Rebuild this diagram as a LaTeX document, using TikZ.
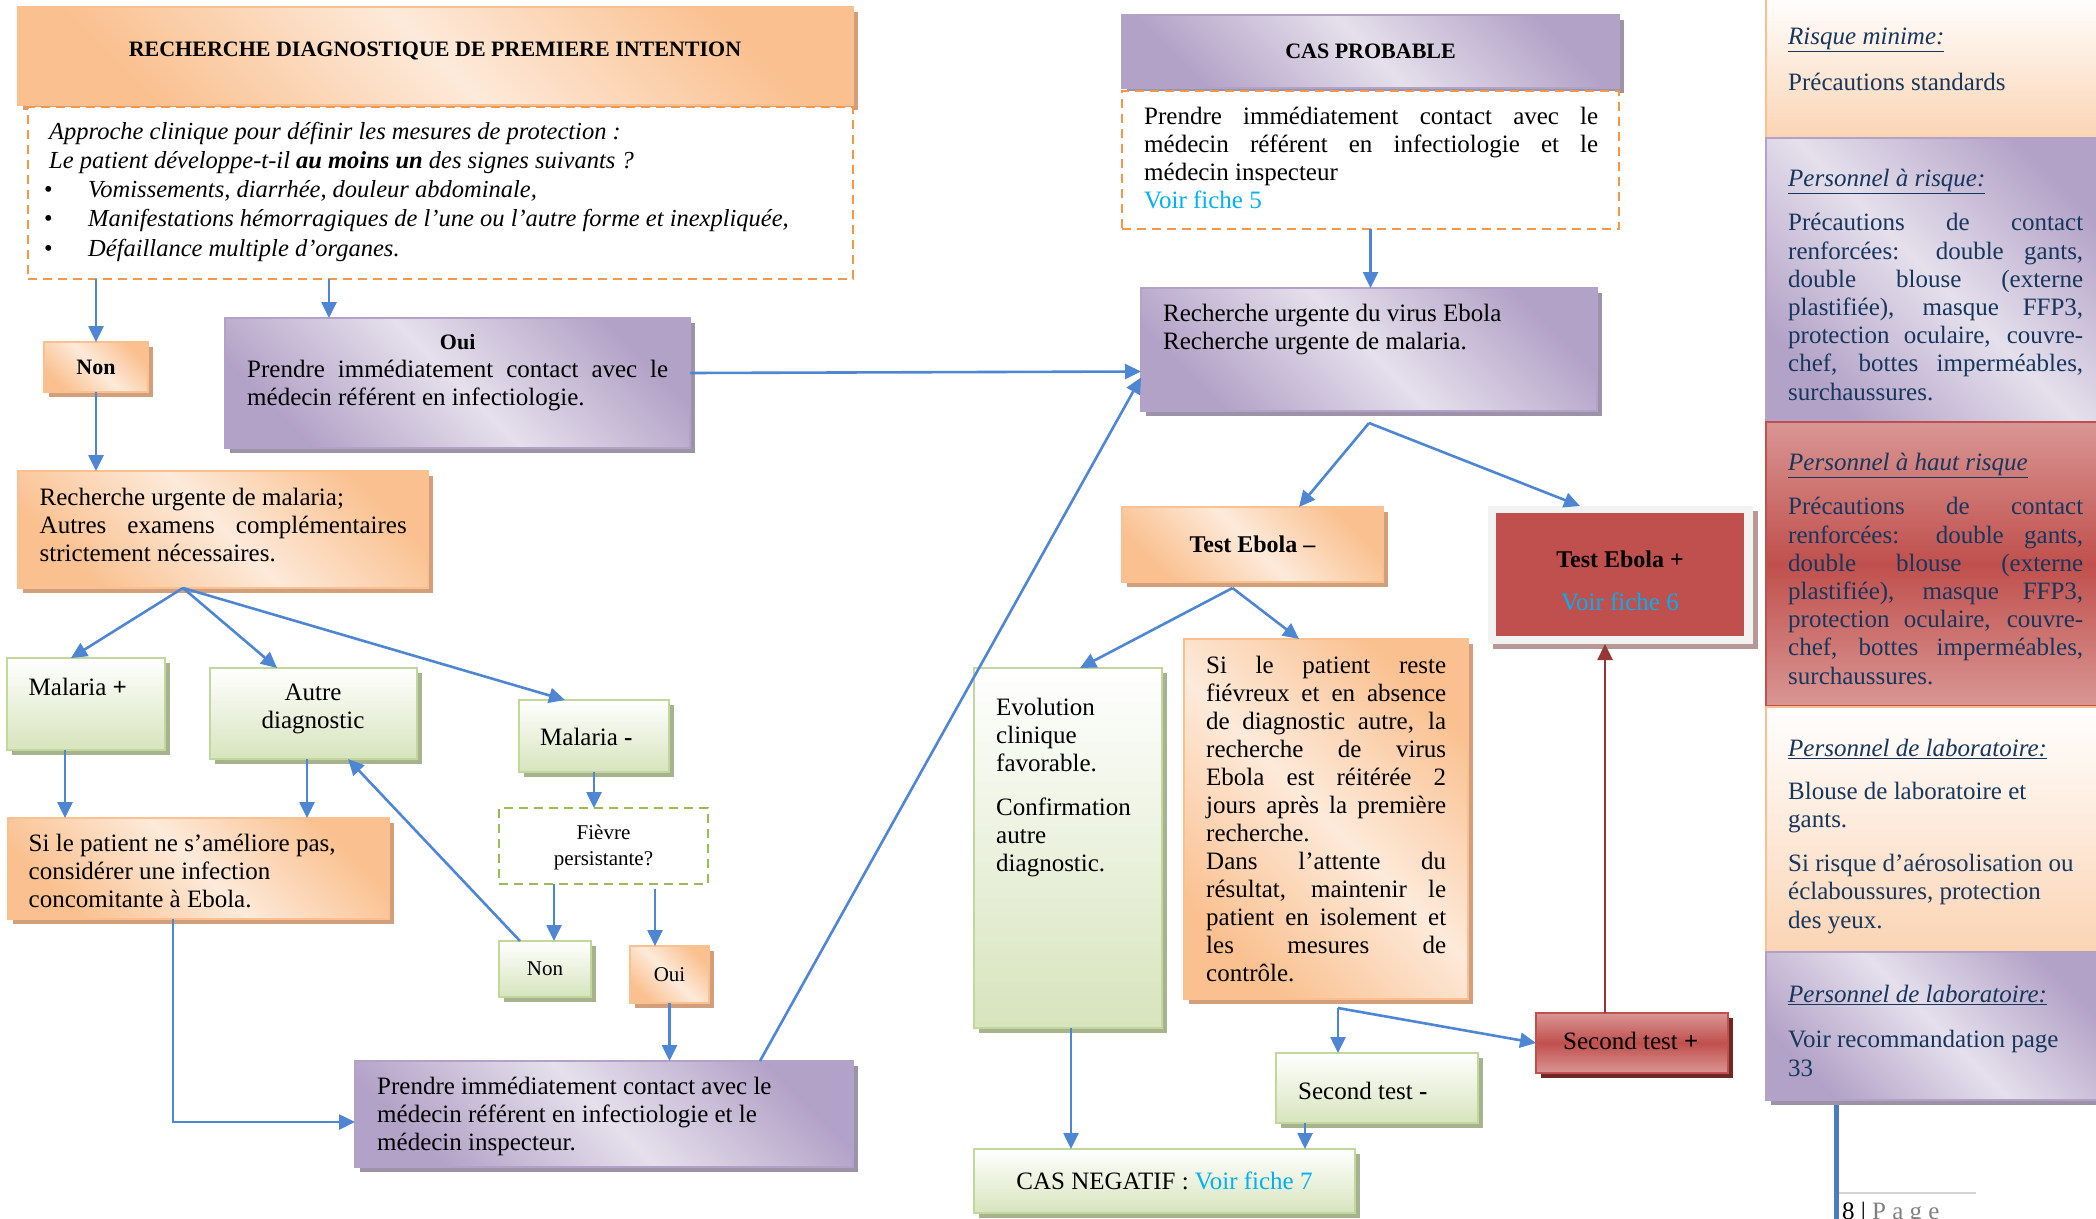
\documentclass[tikz,border=0pt]{standalone}
\usepackage{fontspec}
\setmainfont{Liberation Serif}
\usetikzlibrary{arrows.meta,shadows}
\definecolor{orD}{HTML}{FAC08F}
\definecolor{orL}{HTML}{FDEADA}
\definecolor{orB}{HTML}{FAC090}
\definecolor{orS}{HTML}{D19F7B}
\definecolor{puD}{HTML}{B3A2C7}
\definecolor{puL}{HTML}{E5E0EC}
\definecolor{puB}{HTML}{B3A2C7}
\definecolor{puS}{HTML}{9D93A9}
\definecolor{grD}{HTML}{D7E4BD}
\definecolor{grB}{HTML}{C3D69B}
\definecolor{grS}{HTML}{A6B38E}
\definecolor{reD}{HTML}{C0504D}
\definecolor{reL}{HTML}{D99694}
\definecolor{reB}{HTML}{C0504D}
\definecolor{reS}{HTML}{6B2826}
\definecolor{frG}{HTML}{F2F2F2}
\definecolor{frS}{HTML}{B89797}
\definecolor{dashO}{HTML}{F79646}
\definecolor{dashG}{HTML}{9BBB59}
\definecolor{blA}{HTML}{4E86D4}
\definecolor{arrR}{HTML}{953735}
\definecolor{lienC}{HTML}{00B0F0}
\definecolor{navT}{HTML}{17365D}
\definecolor{pchD}{HTML}{FBD4B4}
\definecolor{barB}{HTML}{4A7EBB}
\newcommand\fsA{\fontsize{25}{28}\selectfont}
\newcommand\fsB{\fontsize{21}{26}\selectfont}
\newcommand\fsI{\fontsize{24.5}{29.2}\selectfont\itshape}
\newcommand\fsT{\fontsize{22}{26}\selectfont\bfseries}
\newcommand\fsE{\fontsize{24}{28}\selectfont\bfseries}
\newcommand\fsP{\fontsize{25}{28.2}\selectfont}
\newcommand\jline[2]{\makebox[#1][s]{#2}}
\begin{document}
\begin{tikzpicture}[x=1pt,y=-1pt,
    box/.style={rectangle,inner sep=0pt,outer sep=0pt,anchor=north west},
    shd/.style={drop shadow={shadow xshift=5pt,shadow yshift=-5pt,fill=#1,opacity=1}},
    obox/.style={box,draw=orB,line width=2pt,top color=orD,bottom color=orD,middle color=orL,shading angle=-45,shd=orS},
    pbox/.style={box,draw=puB,line width=2pt,top color=puD,bottom color=puD,middle color=puL,shading angle=-45,shd=puS},
    gbox/.style={box,draw=grB,line width=2pt,top color=white,bottom color=grD,shd=grS},
    rbox/.style={box,draw=reB,line width=1.5pt,top color=reL,bottom color=reL,middle color=reD},
    dbox/.style={box,draw=#1,line width=2.5pt,dash pattern=on 9pt off 6pt,fill=white},
    txt/.style={inner sep=0pt,anchor=base west,align=left,font=\fsA},
    ptxt/.style={txt,text=navT,font=\fsP},
    arr/.style={draw=blA,line width=2.6pt,-{Triangle[length=16pt,width=15pt]}}]
\useasboundingbox (0,0) rectangle (2096,1218);
\clip (0,0) rectangle (2096,1218);

\node[obox,minimum width=835,minimum height=98] (titre) at (18,7) {};
\node[font=\fsT,inner sep=0pt] (titreT) at (435,51) {RECHERCHE DIAGNOSTIQUE DE PREMIERE INTENTION};
\node[dbox=dashO,minimum width=825,minimum height=172] (appr) at (28,107) {};
\node[txt,font=\fsI] (apprT) at (44,256) {\hspace*{5pt}Approche clinique pour définir les mesures de protection :\\
    \hspace*{5pt}Le patient développe-t-il \textbf{au moins un} des signes suivants ?\\
    \makebox[44pt][l]{\upshape\textbullet}Vomissements, diarrhée, douleur abdominale,\\
    \makebox[44pt][l]{\upshape\textbullet}Manifestations hémorragiques de l’une ou l’autre forme et inexpliquée,\\
    \makebox[44pt][l]{\upshape\textbullet}Défaillance multiple d’organes.};
\node[obox,minimum width=104,minimum height=50,font=\fsT] (non) at (44,342) {Non};
\node[pbox,minimum width=465,minimum height=130] (oui) at (225,318) {};
\node[txt] (ouiT) at (247,405) {\makebox[421pt][c]{\fsT Oui}\\
    \jline{421pt}{Prendre immédiatement contact avec le}\\
    médecin référent en infectiologie.};
\node[obox,minimum width=410,minimum height=117] (malr) at (18,471) {};
\node[txt] (malrT) at (39.5,561) {Recherche urgente de malaria;\\
    \jline{367pt}{Autres examens complémentaires}\\
    strictement nécessaires.};
\node[gbox,minimum width=158,minimum height=92] (malp) at (7,658) {};
\node[txt] (malpT) at (28.5,695) {Malaria \textbf{+}};
\node[gbox,minimum width=207,minimum height=91] (autd) at (210,668) {};
\node[txt,anchor=base,align=center] (autdT) at (313,728) {Autre\\ diagnostic};
\node[gbox,minimum width=150,minimum height=72] (malm) at (519,700) {};
\node[txt] (malmT) at (540,745) {Malaria \textbf{-}};
\node[obox,minimum width=381,minimum height=101] (sipat) at (8,818) {};
\node[txt] (sipatT) at (28.5,907) {Si le patient ne s’améliore pas,\\
    considérer une infection\\
    concomitante à Ebola.};
\node[dbox=dashG,minimum width=209,minimum height=76] (fiev) at (499,808) {};
\node[txt,anchor=base,align=center,font=\fsB] (fievT) at (603.5,865) {Fièvre\\ persistante?};
\node[gbox,minimum width=92,minimum height=56,font=\fsB] (non2) at (499,941) {Non};
\node[obox,minimum width=79,minimum height=57,font=\fsB] (oui2) at (630,946) {Oui};
\node[pbox,minimum width=498,minimum height=106] (prend) at (355,1061) {};
\node[txt] (prendT) at (377,1150) {Prendre immédiatement contact avec le\\
    médecin référent en infectiologie et le\\
    médecin inspecteur.};

\node[pbox,minimum width=497,minimum height=73,font=\fsT] (casp) at (1122,15) {CAS PROBABLE};
\node[dbox=dashO,minimum width=497,minimum height=138] (caspd) at (1122,91) {};
\node[txt] (caspdT) at (1144,208) {\jline{454pt}{Prendre immédiatement contact avec le}\\
    \jline{454pt}{médecin référent en infectiologie et le}\\
    médecin inspecteur\\
    \textcolor{lienC}{Voir fiche 5}};
\node[pbox,minimum width=456,minimum height=123] (rech) at (1141,288) {};
\node[txt] (rechT) at (1163,349) {Recherche urgente du virus Ebola\\
    Recherche urgente de malaria.};
\node[obox,minimum width=261,minimum height=75,font=\fsE] (tneg) at (1122,507) {Test Ebola –};
\node[box,fill=frG,minimum width=265,minimum height=138,shd=frS] (tposf) at (1488,506) {};
\node[box,fill=reD,minimum width=248,minimum height=123] (tpos) at (1496,513) {};
\node[txt,anchor=base,align=center,font=\fsE] (tposT) at (1620,610) {Test Ebola +\\[15pt]
    {\fsA\mdseries\textcolor{lienC}{Voir fiche 6}}};
\node[gbox,minimum width=188,minimum height=360] (evol) at (974,668) {};
\node[txt] (evolT) at (996,871) {Evolution\\ clinique\\ favorable.\\[16pt]
    Confirmation\\ autre\\ diagnostic.};
\node[obox,minimum width=284,minimum height=360] (reste) at (1184,639) {};
\node[txt] (resteT) at (1206,981) {\jline{240pt}{Si le patient reste}\\
    \jline{240pt}{fiévreux et en absence}\\
    \jline{240pt}{de diagnostic autre, la}\\
    \jline{240pt}{recherche de virus}\\
    \jline{240pt}{Ebola est réitérée 2}\\
    \jline{240pt}{jours après la première}\\
    recherche.\\
    \jline{240pt}{Dans l’attente du}\\
    \jline{240pt}{résultat, maintenir le}\\
    \jline{240pt}{patient en isolement et}\\
    \jline{240pt}{les mesures de}\\
    contrôle.};
\node[rbox,shd=reS,minimum width=192,minimum height=60] (stp) at (1536,1013) {};
\node[txt] (stpT) at (1563,1049) {Second test \textbf{+}};
\node[gbox,minimum width=202,minimum height=70] (stm) at (1276,1053) {};
\node[txt] (stmT) at (1298,1099) {Second test \textbf{-}};
\node[gbox,minimum width=381,minimum height=64,font=\fsA] (cneg) at (974,1149) {CAS NEGATIF : \textcolor{lienC}{Voir fiche 7}};

\node[box,draw=orB,line width=2pt,top color=white,bottom color=pchD,minimum width=340,minimum height=143] (rmin) at (1766,-5) {};
\node[ptxt] (rminT) at (1788,90) {\underline{\textit{Risque minime:}}\\[17pt]
    Précautions standards};
\node[box,draw=puB,line width=2pt,top color=puD,bottom color=puD,middle color=puL,shading angle=-45,minimum width=340,minimum height=284] (rris) at (1766,138) {};
\node[ptxt] (rrisT) at (1788,400) {\underline{\textit{Personnel à risque:}}\\[16pt]
    \jline{295pt}{Précautions de contact}\\
    \jline{295pt}{renforcées: double gants,}\\
    \jline{295pt}{double blouse (externe}\\
    \jline{295pt}{plastifiée), masque FFP3,}\\
    \jline{295pt}{protection oculaire, couvre-}\\
    \jline{295pt}{chef, bottes imperméables,}\\
    surchaussures.};
\node[rbox,line width=2pt,minimum width=340,minimum height=284] (rhaut) at (1766,422) {};
\node[ptxt] (rhautT) at (1788,684) {\underline{\textit{Personnel à haut risque}}\\[16pt]
    \jline{295pt}{Précautions de contact}\\
    \jline{295pt}{renforcées: double gants,}\\
    \jline{295pt}{double blouse (externe}\\
    \jline{295pt}{plastifiée), masque FFP3,}\\
    \jline{295pt}{protection oculaire, couvre-}\\
    \jline{295pt}{chef, bottes imperméables,}\\
    surchaussures.};
\node[box,draw=orB,line width=2pt,top color=white,bottom color=pchD,minimum width=340,minimum height=245] (rlab) at (1766,707) {};
\node[ptxt] (rlabT) at (1788,928) {\underline{\textit{Personnel de laboratoire:}}\\[15pt]
    Blouse de laboratoire et\\ gants.\\[16pt]
    Si risque d’aérosolisation ou\\ éclaboussures, protection\\ des yeux.};
\node[pbox,minimum width=340,minimum height=148] (rlab2) at (1766,952) {};
\node[ptxt] (rlab2T) at (1788,1076) {\underline{\textit{Personnel de laboratoire:}}\\[17pt]
    Voir recommandation page\\ 33};
\draw[barB,line width=5pt] (1836,1105) -- (1836,1225);
\draw[gray!35,line width=1.2pt] (1839,1193) -- (1976,1193);
\node[txt] (pageT) at (1842,1219) {8 | \textcolor{gray}{P a g e}};

\coordinate (s1) at ([xshift=-40pt]malr.south);
\coordinate (s2) at ([yshift=-12pt]rech.south);
\coordinate (s3) at ([xshift=-20pt,yshift=-6pt]tneg.south);
\coordinate (s4) at ([xshift=12pt,yshift=-9pt]reste.south);
\coordinate (a1) at ([xshift=58pt]malp.south west);
\coordinate (a2) at ([xshift=97pt]autd.south west);
\coordinate (a3) at ([xshift=55pt]fiev.south west);
\coordinate (a4) at ([xshift=156pt,yshift=-5pt]fiev.south west);
\coordinate (a5) at ([xshift=165pt]sipat.south west);
\coordinate (a6) at ([xshift=97pt]evol.south west);
\coordinate (a7) at ([xshift=29pt]stm.south west);
\coordinate (a8) at ([xshift=69pt]stp.north west);

\draw[arr] (appr.south -| non.north) -- (non.north);
\draw[arr] ([xshift=301pt]appr.south west) -- ([xshift=104pt]oui.north west);
\draw[arr] (non.south) -- (non.south |- malr.north);
\draw[arr] ([yshift=10pt]oui.east) -- ([yshift=-22pt]rech.west);
\draw[arr] (s1) -- ([xshift=64pt]malp.north west);
\draw[arr] (s1) -- ([xshift=67pt]autd.north west);
\draw[arr] (s1) -- ([xshift=46pt]malm.north west);
\draw[arr] (a1) -- (a1 |- sipat.north);
\draw[arr] (a2) -- (a2 |- sipat.north);
\draw[arr] (malm.south) -- (malm.south |- fiev.north);
\draw[arr] (a3) -- (a3 |- non2.north);
\draw[arr] (a4) -- (a4 |- oui2.north);
\draw[arr] ([xshift=21pt]non2.north west) -- ([xshift=138pt]autd.south west);
\draw[arr] (oui2.south) -- (oui2.south |- prend.north);
\draw[arr] (a5) |- ([yshift=-8pt]prend.west);
\draw[arr] ([xshift=405pt]prend.north west) -- ([yshift=-28pt]rech.west);
\draw[arr] (caspd.south) -- (caspd.south |- rech.north);
\draw[arr] (s2) -- ([xshift=177pt]tneg.north west);
\draw[arr] (s2) -- ([xshift=92pt]tposf.north west);
\draw[arr] (s3) -- ([xshift=106pt]evol.north west);
\draw[arr] (s3) -- ([xshift=115pt]reste.north west);
\draw[arr] (a6) -- (a6 |- cneg.north);
\draw[arr] (s4) -- (s4 |- stm.north);
\draw[arr] (s4) -- (stp.west);
\draw[arr] (a7) -- (a7 |- cneg.north);
\draw[arr,draw=arrR] (a8) -- (a8 |- tposf.south);
\end{tikzpicture}
\end{document}
